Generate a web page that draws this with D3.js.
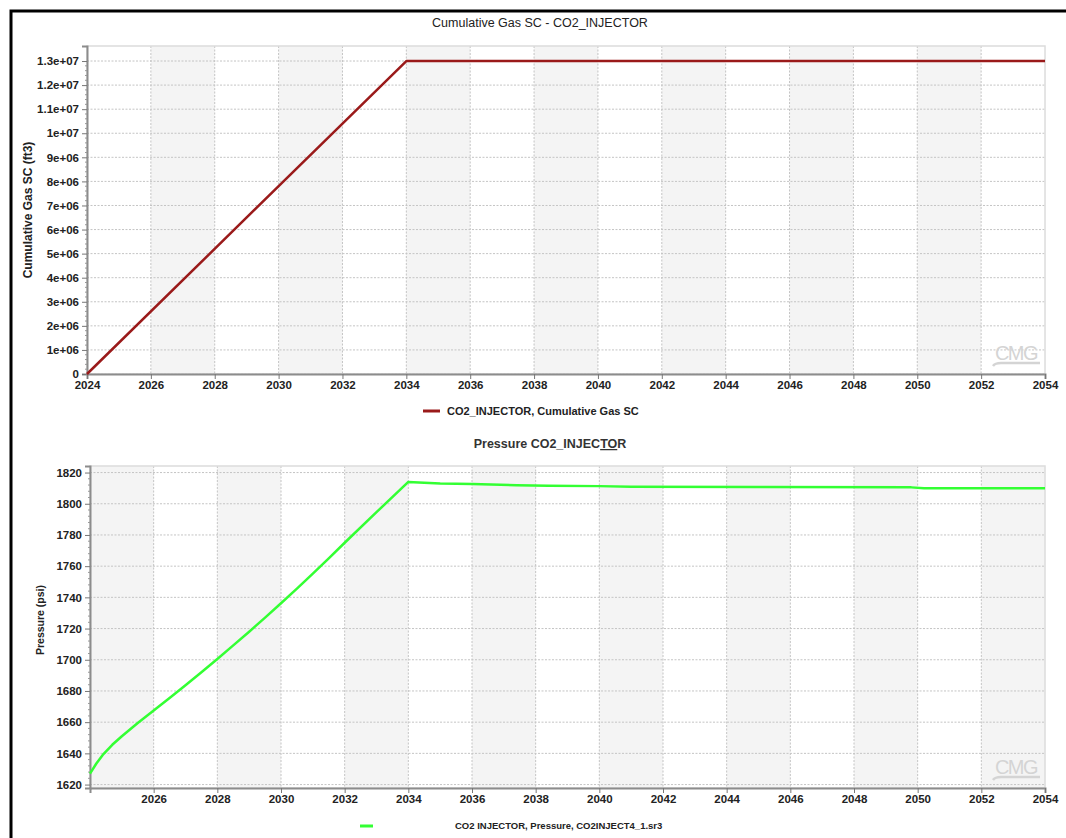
<!DOCTYPE html>
<html><head><meta charset="utf-8">
<script src="https://cdn.jsdelivr.net/npm/d3@7"></script>
<style>html,body{margin:0;padding:0;background:#fff;}svg{display:block;font-family:"Liberation Sans",Arial,sans-serif;}</style>
</head><body>
<svg id="c" width="1066" height="838"></svg>
<script>
// ---- data ----
const gasYears = [2024, 2034, 2054];
const gasValues = [0, 1.3e7, 1.3e7];
const gasYTicks = [0,1e6,2e6,3e6,4e6,5e6,6e6,7e6,8e6,9e6,1e7,1.1e7,1.2e7,1.3e7];
const gasYLabels = ["0","1e+06","2e+06","3e+06","4e+06","5e+06","6e+06","7e+06","8e+06","9e+06","1e+07","1.1e+07","1.2e+07","1.3e+07"];
const gasXTicks = [2024,2026,2028,2030,2032,2034,2036,2038,2040,2042,2044,2046,2048,2050,2052,2054];

const presYears = [2024, 2024.2, 2024.4, 2024.7, 2025, 2025.5, 2026, 2026.5, 2027, 2027.5, 2028, 2028.5, 2029, 2029.5, 2030, 2030.5, 2031, 2031.5, 2032, 2033, 2034, 2035, 2036, 2037.4, 2038.4, 2040, 2041, 2045, 2049.8, 2050.2, 2054];
const presValues = [1627, 1633.5, 1639, 1645.5, 1651, 1659.5, 1667.5, 1675.5, 1683.7, 1692, 1700.5, 1709.2, 1718, 1727, 1736.2, 1745.6, 1755.2, 1765, 1775, 1794.6, 1814, 1813, 1812.7, 1811.9, 1811.6, 1811.3, 1810.9, 1810.7, 1810.5, 1810.0, 1809.9];
const presYTicks = [1620,1640,1660,1680,1700,1720,1740,1760,1780,1800,1820];
const presXTicks = [2026,2028,2030,2032,2034,2036,2038,2040,2042,2044,2046,2048,2050,2052,2054];
const bandEdges = [2024,2026,2028,2030,2032,2034,2036,2038,2040,2042,2044,2046,2048,2050,2052,2054];

const svg = d3.select("#c");
svg.append("rect").attr("width",1066).attr("height",838).attr("fill","#fff");

function panel(o){
  const g = svg.append("g");
  const x = d3.scaleLinear().domain([2024,2054]).range([o.left,o.right]);
  const y = d3.scaleLinear().domain(o.yDomain).range([o.bottom,o.top]);
  for(let i=0;i<bandEdges.length-1;i++){
    if(i%2===o.bandParity){
      g.append("rect").attr("x",x(bandEdges[i])).attr("y",o.top)
        .attr("width",x(bandEdges[i+1])-x(bandEdges[i])).attr("height",o.bottom-o.top)
        .attr("fill","#f4f4f4");
    }
  }
  g.selectAll(null).data(o.yTicks).enter().append("line")
    .attr("x1",o.left).attr("x2",o.right).attr("y1",d=>y(d)).attr("y2",d=>y(d))
    .attr("stroke","#c4c4c4").attr("stroke-dasharray","2,1.5").attr("stroke-width",1);
  g.selectAll(null).data(bandEdges.slice(1,-1)).enter().append("line")
    .attr("y1",o.top).attr("y2",o.bottom).attr("x1",d=>x(d)).attr("x2",d=>x(d))
    .attr("stroke","#c4c4c4").attr("stroke-dasharray","2,1.5").attr("stroke-width",1);
  g.append("rect").attr("x",o.left).attr("y",o.top).attr("width",o.right-o.left).attr("height",o.bottom-o.top)
    .attr("fill","none").attr("stroke","#dcdcdc").attr("stroke-width",1.5);
  const wm = g.append("g").attr("transform",`translate(${o.right-29},${o.bottom-14})`);
  wm.append("text").attr("text-anchor","middle").attr("font-size",20).attr("fill","#d4d4d4")
    .attr("font-family","Liberation Sans, Arial").attr("y",0).attr("letter-spacing","-1.5").text("CMG");
  wm.append("path").attr("d","M-23,6 Q-21,3 -15,3 L24,3").attr("stroke","#d4d4d4").attr("stroke-width",2.5).attr("fill","none");
  const ya = d3.axisLeft(y).tickValues(o.yTicks).tickFormat((d,i)=>o.yLabels[i]).tickSize(5).tickPadding(3);
  const yg = g.append("g").attr("transform",`translate(${o.left},0)`).call(ya);
  const minors=[];
  for(let i=0;i<o.yTicks.length-1;i++){const s=(o.yTicks[i+1]-o.yTicks[i])/5;for(let k=1;k<5;k++)minors.push(o.yTicks[i]+k*s);}
  g.selectAll(null).data(minors).enter().append("line").attr("x1",o.left-2).attr("x2",o.left)
    .attr("y1",d=>y(d)).attr("y2",d=>y(d)).attr("stroke","#999");
  const xa = d3.axisBottom(x).tickValues(o.xTicks).tickFormat(d3.format("d")).tickSize(5).tickPadding(2);
  const xg = g.append("g").attr("transform",`translate(0,${o.bottom})`).call(xa);
  [yg,xg].forEach(a=>{
    a.select(".domain").attr("stroke","#8c8c8c").attr("stroke-width",2);
    a.selectAll(".tick line").attr("stroke","#777");
    a.selectAll("text").attr("font-family","Liberation Sans, Arial").attr("font-weight","bold").attr("font-size",11.5).attr("fill","#222");
  });
  const line = d3.line().x((d,i)=>x(o.xs[i])).y(d=>y(d));
  g.append("path").datum(o.ys).attr("d",line).attr("fill","none")
    .attr("stroke",o.color).attr("stroke-width",2.5).attr("stroke-linejoin","round");
  return {x,y};
}

panel({left:87,right:1045,top:46,bottom:374,yDomain:[0,1.3624e7],bandParity:1,
  yTicks:gasYTicks,yLabels:gasYLabels,xTicks:gasXTicks,xs:gasYears,ys:gasValues,color:"#9a1a1a"});
panel({left:90,right:1045,top:466,bottom:788,yDomain:[1617.8,1824.2],bandParity:0,
  yTicks:presYTicks,yLabels:presYTicks.map(String),xTicks:presXTicks,xs:presYears,ys:presValues,color:"#33ff33"});

svg.append("text").attr("x",540).attr("y",27).attr("text-anchor","middle").attr("font-size",12.5)
  .attr("fill","#222").text("Cumulative Gas SC - CO2_INJECTOR");
const t2 = svg.append("text").attr("x",550).attr("y",448).attr("text-anchor","middle").attr("font-size",12.5)
  .attr("font-weight","bold").attr("fill","#333");
t2.append("tspan").text("Pressure CO2_INJEC");
t2.append("tspan").attr("text-decoration","underline").text("TO");
t2.append("tspan").text("R");

svg.append("text").attr("transform","translate(32,210) rotate(-90)").attr("text-anchor","middle")
  .attr("font-size",12).attr("font-weight","bold").attr("fill","#222").text("Cumulative Gas SC (ft3)");
svg.append("text").attr("transform","translate(44,620) rotate(-90)").attr("text-anchor","middle")
  .attr("font-size",10.5).attr("font-weight","bold").attr("fill","#222").text("Pressure (psi)");

svg.append("line").attr("x1",423).attr("x2",440).attr("y1",411).attr("y2",411).attr("stroke","#9a1a1a").attr("stroke-width",3);
svg.append("text").attr("x",447).attr("y",415).attr("font-size",11).attr("font-weight","bold").attr("fill","#222")
  .text("CO2_INJECTOR, Cumulative Gas SC");
svg.append("line").attr("x1",360).attr("x2",373).attr("y1",826).attr("y2",826).attr("stroke","#33ff33").attr("stroke-width",3);
svg.append("text").attr("x",455).attr("y",829).attr("font-size",9.5).attr("font-weight","bold").attr("fill","#222")
  .text("CO2 INJECTOR, Pressure, CO2INJECT4_1.sr3");

svg.append("path").attr("d","M11,838 L11,11 L1066,11").attr("fill","none").attr("stroke","#000").attr("stroke-width",3);
</script>
</body></html>
